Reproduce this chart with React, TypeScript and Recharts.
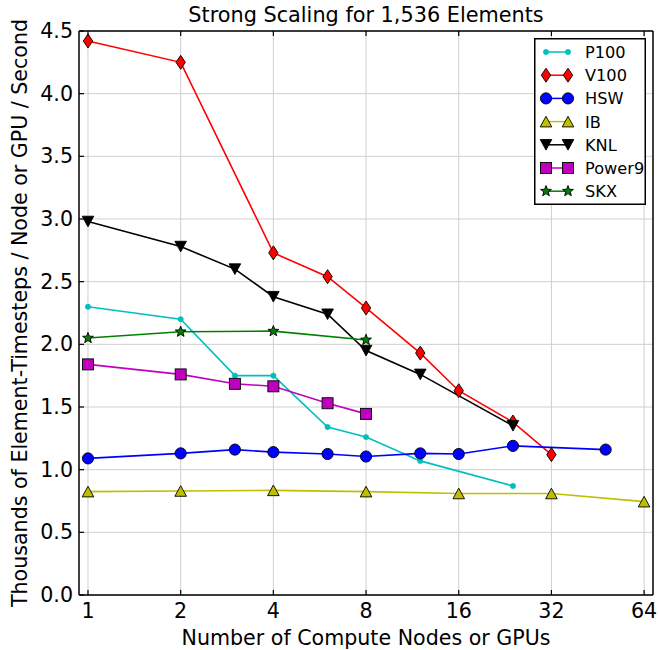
import React from "react";
import { LineChart, Line, XAxis, YAxis, CartesianGrid, Legend } from "recharts";

const xTicks = [1, 2, 4, 8, 16, 32, 64];
const yTicks = [0, 0.5, 1.0, 1.5, 2.0, 2.5, 3.0, 3.5, 4.0, 4.5];

const p100X = [1, 2, 3, 4, 6, 8, 12, 24];
const p100Y = [2.3, 2.2, 1.75, 1.75, 1.34, 1.26, 1.07, 0.87];
const v100X = [1, 2, 4, 6, 8, 12, 16, 24, 32];
const v100Y = [4.42, 4.25, 2.73, 2.54, 2.29, 1.93, 1.63, 1.38, 1.12];
const hswX = [1, 2, 3, 4, 6, 8, 12, 16, 24, 48];
const hswY = [1.09, 1.13, 1.16, 1.14, 1.125, 1.105, 1.13, 1.125, 1.19, 1.16];
const ibX = [1, 2, 4, 8, 16, 32, 64];
const ibY = [0.825, 0.83, 0.835, 0.825, 0.81, 0.81, 0.745];
const knlX = [1, 2, 3, 4, 6, 8, 12, 24];
const knlY = [2.98, 2.78, 2.6, 2.38, 2.24, 1.95, 1.76, 1.35];
const power9X = [1, 2, 3, 4, 6, 8];
const power9Y = [1.84, 1.76, 1.685, 1.665, 1.53, 1.445];
const skxX = [1, 2, 4, 8];
const skxY = [2.05, 2.1, 2.105, 2.035];

const zip = (xs: number[], ys: number[]) => xs.map((x, i) => ({ x, y: ys[i] }));

type Shape = "dot" | "thinDiamond" | "circle" | "triUp" | "triDown" | "square" | "star";

const series: { name: string; color: string; shape: Shape; data: { x: number; y: number }[] }[] = [
  { name: "P100", color: "#00BFBF", shape: "dot", data: zip(p100X, p100Y) },
  { name: "V100", color: "#FF0000", shape: "thinDiamond", data: zip(v100X, v100Y) },
  { name: "HSW", color: "#0000FF", shape: "circle", data: zip(hswX, hswY) },
  { name: "IB", color: "#BFBF00", shape: "triUp", data: zip(ibX, ibY) },
  { name: "KNL", color: "#000000", shape: "triDown", data: zip(knlX, knlY) },
  { name: "Power9", color: "#BF00BF", shape: "square", data: zip(power9X, power9Y) },
  { name: "SKX", color: "#008000", shape: "star", data: zip(skxX, skxY) },
];

const FONT = "'DejaVu Sans', sans-serif";
const FS = 20.6;

function Marker({ shape, cx, cy, color }: { shape: Shape; cx: number; cy: number; color: string }) {
  const edge = { stroke: "#000", strokeWidth: 0.9 };
  switch (shape) {
    case "dot":
      return <circle cx={cx} cy={cy} r={2.7} fill={color} stroke={color} strokeWidth={0.5} />;
    case "thinDiamond":
      return (
        <polygon
          points={`${cx},${cy - 7} ${cx + 4.7},${cy} ${cx},${cy + 7} ${cx - 4.7},${cy}`}
          fill={color}
          {...edge}
        />
      );
    case "circle":
      return <circle cx={cx} cy={cy} r={5.6} fill={color} {...edge} />;
    case "triUp":
      return (
        <polygon
          points={`${cx},${cy - 5.3} ${cx + 5.8},${cy + 5.3} ${cx - 5.8},${cy + 5.3}`}
          fill={color}
          {...edge}
        />
      );
    case "triDown":
      return (
        <polygon
          points={`${cx},${cy + 5.3} ${cx + 5.8},${cy - 5.3} ${cx - 5.8},${cy - 5.3}`}
          fill={color}
          {...edge}
        />
      );
    case "square":
      return <rect x={cx - 5.5} y={cy - 5.5} width={11} height={11} fill={color} {...edge} />;
    case "star": {
      const pts: string[] = [];
      for (let i = 0; i < 10; i++) {
        const r = i % 2 === 0 ? 5.7 : 2.4;
        const a = -Math.PI / 2 + (i * Math.PI) / 5;
        pts.push(`${cx + r * Math.cos(a)},${cy + r * Math.sin(a)}`);
      }
      return <polygon points={pts.join(" ")} fill={color} {...edge} />;
    }
  }
  return null;
}

const BottomTick = (props: any) => {
  const { x, y, payload } = props;
  return (
    <g>
      <line x1={x} x2={x} y1={y} y2={y - 5} stroke="#000" strokeWidth={1.2} />
      <text x={x} y={y + 23} textAnchor="middle" fontSize={FS} fontFamily={FONT} fill="#000">
        {payload.value}
      </text>
    </g>
  );
};

const TopTick = (props: any) => {
  const { x, y } = props;
  return <line x1={x} x2={x} y1={y} y2={y + 5} stroke="#000" strokeWidth={1.2} />;
};

const LeftTick = (props: any) => {
  const { x, y, payload } = props;
  return (
    <g>
      <line x1={x} x2={x + 5} y1={y} y2={y} stroke="#000" strokeWidth={1.2} />
      <text x={x - 6} y={y + 7} textAnchor="end" fontSize={FS} fontFamily={FONT} fill="#000">
        {Number(payload.value).toFixed(1)}
      </text>
    </g>
  );
};

const RightTick = (props: any) => {
  const { x, y } = props;
  return <line x1={x} x2={x - 5} y1={y} y2={y} stroke="#000" strokeWidth={1.2} />;
};

const LegendBox = () => {
  return (
    <svg width={112} height={167} style={{ display: "block" }}>
      <rect x={0.75} y={0.75} width={110.5} height={165.5} fill="#fff" stroke="#000" strokeWidth={1.5} />
      {series.map((s, i) => {
        const cy = 14 + 23.2 * i;
        return (
          <g key={s.name}>
            <line x1={12} x2={34} y1={cy} y2={cy} stroke={s.color} strokeWidth={1.5} />
            <Marker shape={s.shape} cx={12} cy={cy} color={s.color} />
            <Marker shape={s.shape} cx={34} cy={cy} color={s.color} />
            <text x={51} y={cy + 6} fontSize={16.2} fontFamily={FONT} fill="#000">
              {s.name}
            </text>
          </g>
        );
      })}
    </svg>
  );
};

export default function App() {
  return (
    <div style={{ position: "absolute", left: 0, top: 0, width: 659, height: 650, background: "#fff" }}>
      <LineChart width={659} height={650} margin={{ top: 30, right: 5, bottom: 25, left: 19 }}>
        <CartesianGrid stroke="#cfcfcf" strokeWidth={1} verticalValues={xTicks} horizontalValues={yTicks} />
        <XAxis
          xAxisId={0}
          dataKey="x"
          type="number"
          scale="log"
          domain={[0.935, 68.4]}
          allowDataOverflow
          ticks={xTicks}
          interval={0}
          height={30}
          tickSize={0}
          tickMargin={0}
          tickLine={false}
          axisLine={{ stroke: "#000", strokeWidth: 1.5 }}
          tick={<BottomTick />}
        />
        <XAxis
          xAxisId="top"
          orientation="top"
          dataKey="x"
          type="number"
          scale="log"
          domain={[0.935, 68.4]}
          allowDataOverflow
          ticks={xTicks}
          interval={0}
          height={1}
          tickSize={0}
          tickMargin={0}
          tickLine={false}
          axisLine={{ stroke: "#000", strokeWidth: 1.5 }}
          tick={<TopTick />}
        />
        <YAxis
          yAxisId={0}
          type="number"
          domain={[0, 4.5]}
          ticks={yTicks}
          interval={0}
          width={60}
          tickSize={0}
          tickMargin={0}
          tickLine={false}
          axisLine={{ stroke: "#000", strokeWidth: 1.5 }}
          tick={<LeftTick />}
        />
        <YAxis
          yAxisId="right"
          orientation="right"
          type="number"
          domain={[0, 4.5]}
          ticks={yTicks}
          interval={0}
          width={1}
          tickSize={0}
          tickMargin={0}
          tickLine={false}
          axisLine={{ stroke: "#000", strokeWidth: 1.5 }}
          tick={<RightTick />}
        />
        {series.map((s) => (
          <Line
            key={s.name}
            xAxisId={0}
            yAxisId={0}
            data={s.data}
            dataKey="y"
            name={s.name}
            type="linear"
            stroke={s.color}
            strokeWidth={1.6}
            isAnimationActive={false}
            activeDot={false}
            dot={(p: any) => (
              <Marker key={`${s.name}-${p.index}`} shape={s.shape} cx={p.cx} cy={p.cy} color={s.color} />
            )}
          />
        ))}
        <Legend
          layout="vertical"
          align="center"
          verticalAlign="middle"
          content={() => <LegendBox />}
          wrapperStyle={{ position: "absolute", left: 534, top: 38, width: 112, height: 167 }}
        />
      </LineChart>
      <svg
        width={659}
        height={650}
        style={{ position: "absolute", left: 0, top: 0, pointerEvents: "none" }}
      >
        <text x={366} y={22} textAnchor="middle" fontSize={20.8} fontFamily={FONT} fill="#000">
          Strong Scaling for 1,536 Elements
        </text>
        <text x={366} y={645} textAnchor="middle" fontSize={FS} fontFamily={FONT} fill="#000">
          Number of Compute Nodes or GPUs
        </text>
        <text
          transform="translate(27, 313) rotate(-90)"
          textAnchor="middle"
          fontSize={FS}
          fontFamily={FONT}
          fill="#000"
        >
          Thousands of Element-Timesteps / Node or GPU / Second
        </text>
      </svg>
    </div>
  );
}
